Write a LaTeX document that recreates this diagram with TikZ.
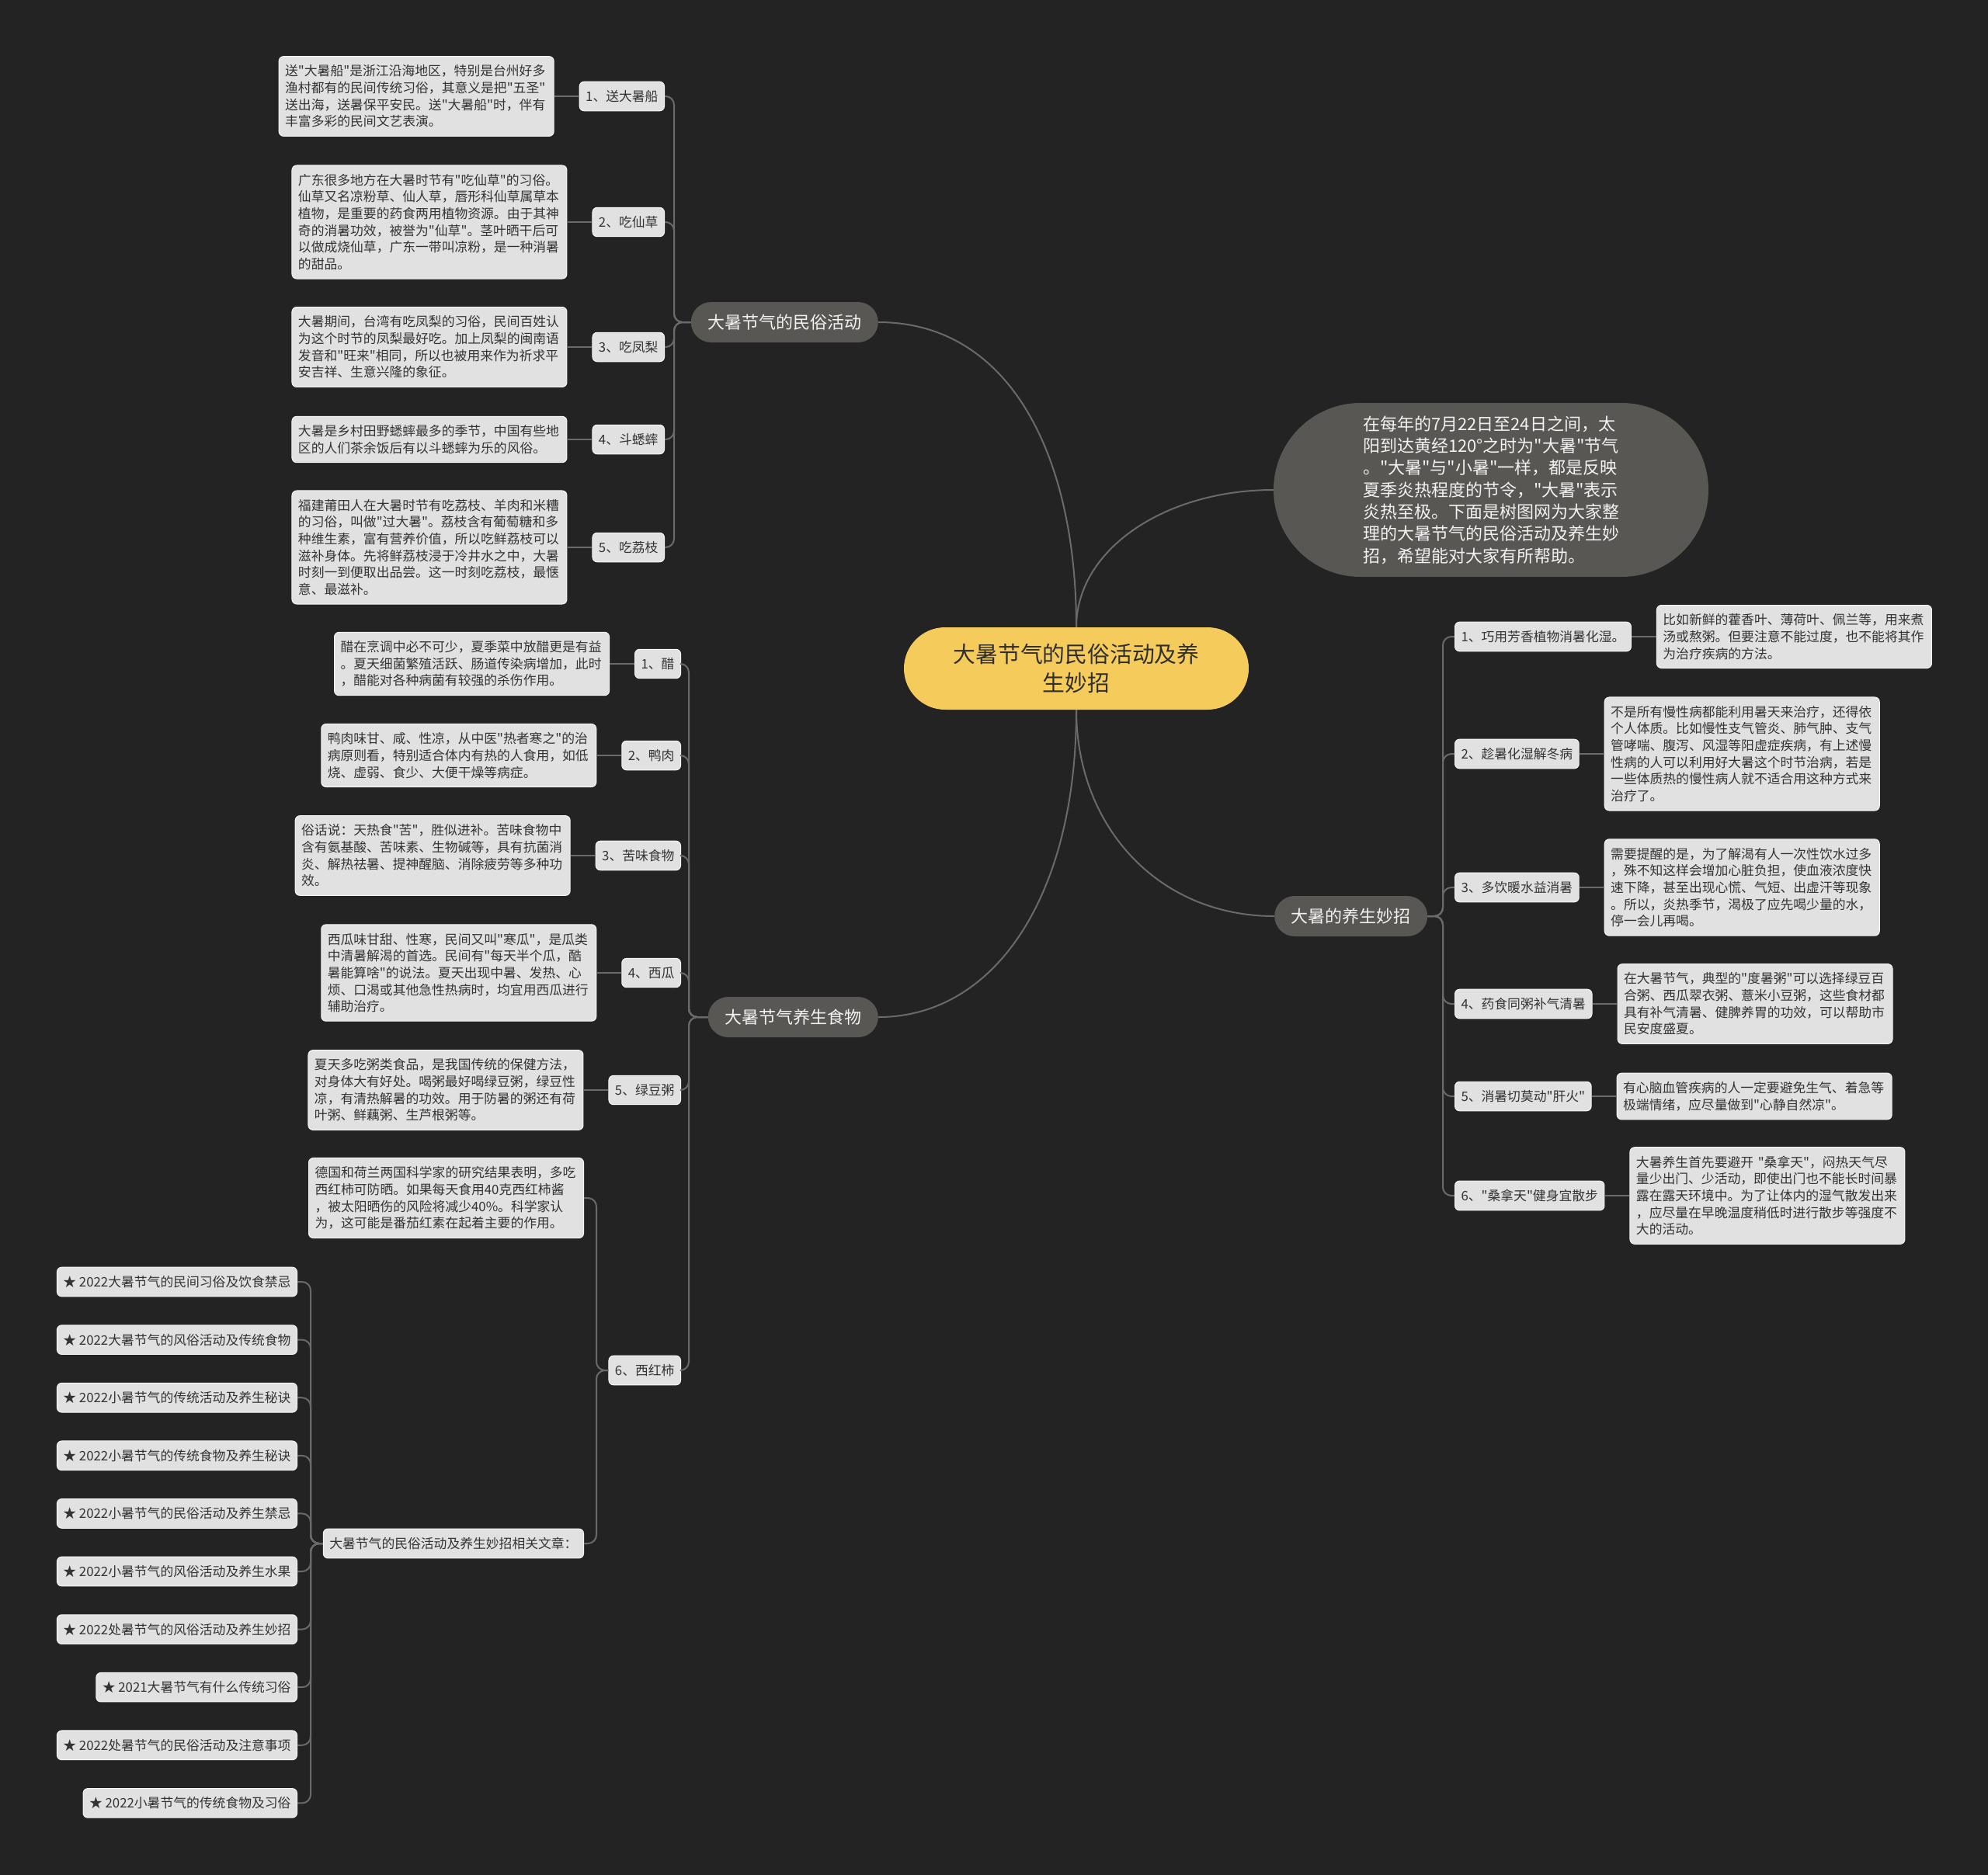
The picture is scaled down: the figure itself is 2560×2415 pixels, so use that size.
\documentclass[tikz,border=0pt]{standalone}
\usepackage{fontspec}
\setmainfont{Noto Sans CJK SC}
\newfontfamily\cjk{Noto Sans CJK SC}
\usetikzlibrary{positioning}

\definecolor{bgc}{HTML}{232323}
\definecolor{leafc}{HTML}{E1E1E1}
\definecolor{leafe}{HTML}{F4F4F4}
\definecolor{leaft}{HTML}{333333}
\definecolor{topc}{HTML}{595754}
\definecolor{topt}{HTML}{F2F2F2}
\definecolor{rootc}{HTML}{F5CB5C}
\definecolor{roott}{HTML}{2F2F2F}
\definecolor{linkc}{HTML}{6A6A6A}

\begin{document}
\begin{tikzpicture}[x=1pt, y=-1pt,
  leaf/.style={fill=leafc, draw=leafe, line width=1pt, rounded corners=6pt,
    text=leaft, font=\cjk\fontsize{16.8}{21.7}\selectfont, inner xsep=8pt, inner ysep=11pt},
  desc/.style={leaf, text width=338pt, align=left},
  topic/.style={fill=topc, text=topt, rounded corners=26pt,
    font=\cjk\fontsize{22}{28}\selectfont, inner xsep=21.5pt, minimum height=52pt},
  root/.style={fill=rootc, text=roott, rounded corners=53pt, align=center,
    font=\cjk\fontsize{28.8}{37.6}\selectfont, minimum width=444pt, minimum height=106pt},
  intro/.style={fill=topc, text=topt, rounded corners=112pt, text width=330pt, align=left,
    font=\cjk\fontsize{22}{28.3}\selectfont, inner xsep=115pt, minimum height=224pt},
  link/.style={draw=linkc, line width=2pt},
  trunk/.style={link, rounded corners=11pt},
]

% background, also fixes the page size
\fill[bgc] (0,0) rectangle (2560,2415);

% Root and main topics
\node[root] (root) at (1386,861) {大暑节气的民俗活动及养\\生妙招};
\node[topic, anchor=east] (act) at (1131,415) {大暑节气的民俗活动};
\node[topic, anchor=east] (food) at (1131,1310) {大暑节气养生食物};
\node[topic, anchor=west] (yang) at (1641,1180) {大暑的养生妙招};
\node[intro] (intro) at (1920,631) {在每年的7月22日至24日之间，太\\
阳到达黄经120°之时为"大暑"节气\\
。"大暑"与"小暑"一样，都是反映\\
夏季炎热程度的节令，"大暑"表示\\
炎热至极。下面是树图网为大家整\\
理的大暑节气的民俗活动及养生妙\\
招，希望能对大家有所帮助。};

% trunk x positions
\coordinate (tA) at (868,0);
\coordinate (tF) at (887,0);
\coordinate (tT) at (768,0);
\coordinate (tR) at (400,0);
\coordinate (tY) at (1858,0);

% ── 民俗活动 ──
\node[leaf, anchor=east] (lA1) at (856,124) {1、送大暑船};
\node[leaf, anchor=east] (lA2) at (856,286) {2、吃仙草};
\node[leaf, anchor=east] (lA3) at (856,447) {3、吃凤梨};
\node[leaf, anchor=east] (lA4) at (856,566) {4、斗蟋蟀};
\node[leaf, anchor=east] (lA5) at (856,705) {5、吃荔枝};

\node[desc, left=32pt of lA1] (dA1) {送"大暑船"是浙江沿海地区，特别是台州好多\\
渔村都有的民间传统习俗，其意义是把"五圣"\\
送出海，送暑保平安民。送"大暑船"时，伴有\\
丰富多彩的民间文艺表演。};
\node[desc, left=32pt of lA2] (dA2) {广东很多地方在大暑时节有"吃仙草"的习俗。\\
仙草又名凉粉草、仙人草，唇形科仙草属草本\\
植物，是重要的药食两用植物资源。由于其神\\
奇的消暑功效，被誉为"仙草"。茎叶晒干后可\\
以做成烧仙草，广东一带叫凉粉，是一种消暑\\
的甜品。};
\node[desc, left=32pt of lA3] (dA3) {大暑期间，台湾有吃凤梨的习俗，民间百姓认\\
为这个时节的凤梨最好吃。加上凤梨的闽南语\\
发音和"旺来"相同，所以也被用来作为祈求平\\
安吉祥、生意兴隆的象征。};
\node[desc, left=32pt of lA4] (dA4) {大暑是乡村田野蟋蟀最多的季节，中国有些地\\
区的人们茶余饭后有以斗蟋蟀为乐的风俗。};
\node[desc, left=32pt of lA5] (dA5) {福建莆田人在大暑时节有吃荔枝、羊肉和米糟\\
的习俗，叫做"过大暑"。荔枝含有葡萄糖和多\\
种维生素，富有营养价值，所以吃鲜荔枝可以\\
滋补身体。先将鲜荔枝浸于冷井水之中，大暑\\
时刻一到便取出品尝。这一时刻吃荔枝，最惬\\
意、最滋补。};

% ── 养生食物 ──
\node[leaf, anchor=east] (lF1) at (877,855) {1、醋};
\node[leaf, anchor=east] (lF2) at (877,973) {2、鸭肉};
\node[leaf, anchor=east] (lF3) at (877,1102) {3、苦味食物};
\node[leaf, anchor=east] (lF4) at (877,1253) {4、西瓜};
\node[leaf, anchor=east] (lF5) at (877,1404) {5、绿豆粥};
\node[leaf, anchor=east] (lF6) at (877,1765) {6、西红柿};

\node[desc, left=32pt of lF1] (dF1) {醋在烹调中必不可少，夏季菜中放醋更是有益\\
。夏天细菌繁殖活跃、肠道传染病增加，此时\\
，醋能对各种病菌有较强的杀伤作用。};
\node[desc, left=32pt of lF2] (dF2) {鸭肉味甘、咸、性凉，从中医"热者寒之"的治\\
病原则看，特别适合体内有热的人食用，如低\\
烧、虚弱、食少、大便干燥等病症。};
\node[desc, left=32pt of lF3] (dF3) {俗话说：天热食"苦"，胜似进补。苦味食物中\\
含有氨基酸、苦味素、生物碱等，具有抗菌消\\
炎、解热祛暑、提神醒脑、消除疲劳等多种功\\
效。};
\node[desc, left=32pt of lF4] (dF4) {西瓜味甘甜、性寒，民间又叫"寒瓜"，是瓜类\\
中清暑解渴的首选。民间有"每天半个瓜，酷\\
暑能算啥"的说法。夏天出现中暑、发热、心\\
烦、口渴或其他急性热病时，均宜用西瓜进行\\
辅助治疗。};
\node[desc, left=32pt of lF5] (dF5) {夏天多吃粥类食品，是我国传统的保健方法，\\
对身体大有好处。喝粥最好喝绿豆粥，绿豆性\\
凉，有清热解暑的功效。用于防暑的粥还有荷\\
叶粥、鲜藕粥、生芦根粥等。};

% 西红柿 children
\node[desc, anchor=east] (dF6) at (752,1543) {德国和荷兰两国科学家的研究结果表明，多吃\\
西红柿可防晒。如果每天食用40克西红柿酱\\
，被太阳晒伤的风险将减少40\%。科学家认\\
为，这可能是番茄红素在起着主要的作用。};
\node[leaf, anchor=east] (rel) at (752,1988) {大暑节气的民俗活动及养生妙招相关文章：};

% related articles
\foreach \t [count=\i] in {2022大暑节气的民间习俗及饮食禁忌, 2022大暑节气的风俗活动及传统食物,
    2022小暑节气的传统活动及养生秘诀, 2022小暑节气的传统食物及养生秘诀,
    2022小暑节气的民俗活动及养生禁忌, 2022小暑节气的风俗活动及养生水果,
    2022处暑节气的风俗活动及养生妙招, 2021大暑节气有什么传统习俗,
    2022处暑节气的民俗活动及注意事项, 2022小暑节气的传统食物及习俗}
  \node[leaf, anchor=east] (k\i) at (383,{1651+(\i-1)*74.6}) {★ \t};

% ── 养生妙招 ──
\node[leaf, anchor=west] (lY1) at (1873,820) {1、巧用芳香植物消暑化湿。};
\node[leaf, anchor=west] (lY2) at (1873,971) {2、趁暑化湿解冬病};
\node[leaf, anchor=west] (lY3) at (1873,1143) {3、多饮暖水益消暑};
\node[leaf, anchor=west] (lY4) at (1873,1293) {4、药食同粥补气清暑};
\node[leaf, anchor=west] (lY5) at (1873,1412) {5、消暑切莫动"肝火"};
\node[leaf, anchor=west] (lY6) at (1873,1540) {6、"桑拿天"健身宜散步};

\node[desc, right=32pt of lY1] (dY1) {比如新鲜的藿香叶、薄荷叶、佩兰等，用来煮\\
汤或熬粥。但要注意不能过度，也不能将其作\\
为治疗疾病的方法。};
\node[desc, right=32pt of lY2] (dY2) {不是所有慢性病都能利用暑天来治疗，还得依\\
个人体质。比如慢性支气管炎、肺气肿、支气\\
管哮喘、腹泻、风湿等阳虚症疾病，有上述慢\\
性病的人可以利用好大暑这个时节治病，若是\\
一些体质热的慢性病人就不适合用这种方式来\\
治疗了。};
\node[desc, right=32pt of lY3] (dY3) {需要提醒的是，为了解渴有人一次性饮水过多\\
，殊不知这样会增加心脏负担，使血液浓度快\\
速下降，甚至出现心慌、气短、出虚汗等现象\\
。所以，炎热季节，渴极了应先喝少量的水，\\
停一会儿再喝。};
\node[desc, right=32pt of lY4] (dY4) {在大暑节气，典型的"度暑粥"可以选择绿豆百\\
合粥、西瓜翠衣粥、薏米小豆粥，这些食材都\\
具有补气清暑、健脾养胃的功效，可以帮助市\\
民安度盛夏。};
\node[desc, right=32pt of lY5] (dY5) {有心脑血管疾病的人一定要避免生气、着急等\\
极端情绪，应尽量做到"心静自然凉"。};
\node[desc, right=32pt of lY6] (dY6) {大暑养生首先要避开~"桑拿天"，闷热天气尽\\
量少出门、少活动，即使出门也不能长时间暴\\
露在露天环境中。为了让体内的湿气散发出来\\
，应尽量在早晚温度稍低时进行散步等强度不\\
大的活动。};

% ── Connectors: root -> topics ──
\draw[link] (root.north) .. controls +(0,-220) and +(170,0) .. (act.east);
\draw[link] (root.north) .. controls +(0,-100) and +(-140,0) .. (intro.west);
\draw[link] (root.south) .. controls +(0,240) and +(150,0) .. (food.east);
\draw[link] (root.south) .. controls +(0,150) and +(-150,0) .. (yang.west);

% ── Connectors: topics -> items ──
\foreach \n in {lA1,lA2,lA3,lA4,lA5}
  \draw[trunk] (act.west) -- (act.west -| tA) -- (\n.east -| tA) -- (\n.east);
\foreach \n in {lF1,lF2,lF3,lF4,lF5,lF6}
  \draw[trunk] (food.west) -- (food.west -| tF) -- (\n.east -| tF) -- (\n.east);
\foreach \n in {lY1,lY2,lY3,lY4,lY5,lY6}
  \draw[trunk] (yang.east) -- (yang.east -| tY) -- (\n.west -| tY) -- (\n.west);

% ── Connectors: items -> texts ──
\foreach \i in {1,...,5}
  \draw[link] (lA\i.west) -- (dA\i.east);
\foreach \i in {1,...,5}
  \draw[link] (lF\i.west) -- (dF\i.east);
\foreach \i in {1,...,6}
  \draw[link] (lY\i.east) -- (dY\i.west);

% 西红柿 and related list
\foreach \n in {dF6,rel}
  \draw[trunk] (lF6.west) -- (lF6.west -| tT) -- (\n.east -| tT) -- (\n.east);
\foreach \i in {1,...,10}
  \draw[trunk] (rel.west) -- (rel.west -| tR) -- (k\i.east -| tR) -- (k\i.east);

\end{tikzpicture}
\end{document}
